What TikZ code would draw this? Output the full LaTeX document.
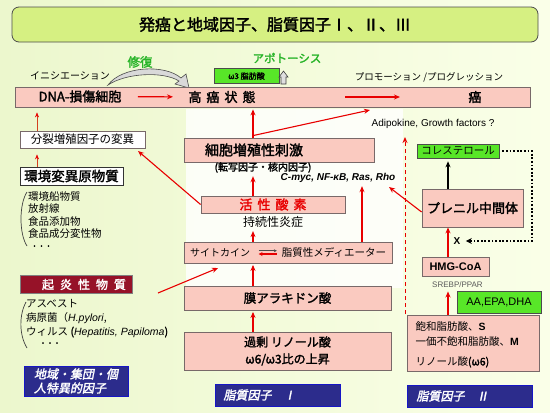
\documentclass[tikz,border=0pt]{standalone}
\usepackage{fontspec}
\setmainfont{Noto Sans CJK JP}[AutoFakeBold=2,AutoFakeSlant=0.2]
\newfontfamily\lat{Liberation Sans}
\usetikzlibrary{arrows.meta, calc}
\definecolor{bgleft}{RGB}{236,247,205}
\definecolor{bgright}{RGB}{250,255,232}
\definecolor{titlegreen}{RGB}{214,240,130}
\definecolor{boxpink}{RGB}{250,202,192}
\definecolor{boxedge}{RGB}{120,105,105}
\definecolor{arrred}{RGB}{232,0,0}
\definecolor{kienred}{RGB}{150,18,40}
\definecolor{navy}{RGB}{44,44,140}
\definecolor{limegreen}{RGB}{88,230,40}
\definecolor{repgreen}{RGB}{40,180,40}
\newcommand{\fsz}[2]{\fontsize{#1}{#2}\selectfont}
\tikzset{
    pinkbox/.style={draw=boxedge, fill=boxpink, inner sep=0pt, line width=0.8pt},
    whitebox/.style={draw=boxedge, fill=white, inner sep=0pt, line width=0.8pt},
    limebox/.style={draw=gray!60!black, fill=limegreen, inner sep=0pt, line width=0.6pt},
    navybox/.style={draw=blue!50!navy, fill=navy, inner sep=0pt, line width=1pt},
    navytext/.style={text=white, font=\fsz{12}{14}\bfseries\itshape},
    redarr/.style={draw=arrred, line width=1.1pt, -{Stealth[length=6pt,width=5pt]}},
    thinarr/.style={draw=arrred!50!brown, line width=0.6pt, -{Stealth[length=5pt,width=4pt,color=arrred]}},
    dotline/.style={line width=1.8pt, dash pattern=on 1.8pt off 1.8pt, -{Stealth[length=6pt,width=6pt]}}
}
\begin{document}
\begin{tikzpicture}[x=1pt, y=-1pt]
    % background
    \shade[left color=bgleft, right color=bgright] (0,0) rectangle (550,413);
    \useasboundingbox (0,0) rectangle (550,413);
    \fill[white, opacity=.8] (186,109) rectangle (403,288);

    % title
    \node[draw=gray!60!black, fill=titlegreen, rounded corners=7pt, line width=0.8pt,
          minimum width=526pt, minimum height=35pt, font=\fsz{16}{19}\bfseries] (title) at (275,24.5) {発癌と地域因子、脂質因子Ⅰ、Ⅱ、Ⅲ};

    % top row
    \node[font=\fsz{10}{12}] (init) at (70,76) {イニシエーション};
    \node[font=\fsz{12.5}{14}\bfseries, text=repgreen] (repair) at (140,62) {修復};
    \node[font=\fsz{11.5}{14}\bfseries, text=repgreen] (apop) at (287,58) {アポトーシス};
    \node[limebox, minimum width=65pt, minimum height=15pt, font=\fsz{8}{9}\bfseries] (omega) at (246.5,76) {ω3 脂肪酸};
    \node[font=\fsz{9.5}{11}] (promo) at (429,77) {プロモーション /プログレッション};
    \draw[draw=gray!60!black, fill=gray!30, line width=.6pt]
        (108,85) .. controls (122,66) and (165,64) .. (181,78) -- (186,74) -- (189,88) -- (175,84) -- (179,81)
        .. controls (163,71) and (126,73) .. (108,85) -- cycle;
    \draw[draw=gray!50!black, fill=gray!25, line width=.6pt]
        (281,84) -- (281,77) -- (279,77) -- (283.5,71) -- (288,77) -- (286,77) -- (286,84) -- cycle;

    % main band
    \node[pinkbox, minimum width=515pt, minimum height=20pt] (main) at (272.5,97) {};
    \node[font=\fsz{13}{15}\bfseries] (dna) at (80,96.5) {DNA-損傷細胞};
    \node[font=\fsz{13}{15}\bfseries] (kogan) at (222,97) {高\hspace{5pt}癌\hspace{5pt}状\hspace{5pt}態};
    \node[font=\fsz{13}{15}\bfseries] (gan) at (475,97) {癌};
    \draw[redarr, shorten <=13pt, shorten >=12pt] (dna) -- (kogan);
    \draw[redarr, shorten <=86pt, shorten >=65pt] (kogan) -- (gan);
    \node[font=\lat\fsz{10}{12}] (adipo) at (433,124) {Adipokine, Growth factors ?};

    % left column
    \node[whitebox, minimum width=125pt, minimum height=17pt, font=\fsz{11.5}{13}] (bunretsu) at (82.5,139.5) {分裂増殖因子の変異};
    \node[whitebox, draw=black!80, minimum width=103pt, minimum height=18pt, font=\fsz{13.5}{15}\bfseries] (kankyo) at (71.5,176) {環境変異原物質};
    \coordinate (leftx) at (37,0);
    \draw[thinarr, shorten >=5pt] (bunretsu.north -| leftx) -- (main.south -| leftx);
    \draw[thinarr, shorten >=6pt] (kankyo.north -| leftx) -- (bunretsu.south -| leftx);
    \node[anchor=north west, align=left, inner sep=0pt, font=\fsz{10.5}{12.5}] (src) at (28,191) {環境船物質\\放射線\\食品添加物\\食品成分変性物};
    \node[font=\fsz{7}{8}\bfseries] (srcdots) at (41.5,247) {・・・};
    \draw[gray!50!black, line width=.7pt] (27,192) .. controls (19,204) and (19,234) .. (27,246);

    \node[draw=gray, fill=kienred, minimum width=112pt, minimum height=17pt, text=white,
          font=\fsz{12}{14}\bfseries] (kien) at (76,284.5) {\hspace*{16pt}起\hspace{6pt}炎\hspace{6pt}性\hspace{6pt}物\hspace{6pt}質};
    \node[anchor=north west, align=left, inner sep=0pt, font=\fsz{10.5}{14}] (inflam) at (26,299)
        {アスベスト\\病原菌（{\lat\itshape H.pylori},\\ウィルス {\bfseries(}{\lat\itshape Hepatitis, Papiloma}{\bfseries)}};
    \node[font=\fsz{7}{8}\bfseries] (inflamdots) at (50,344) {・・・};
    \draw[gray!50!black, line width=.7pt] (26,302) .. controls (19,315) and (19,335) .. (27,348);

    \node[navybox, minimum width=104pt, minimum height=30pt, align=left, navytext] (chiiki) at (76,381) {地域・集団・個\\人特異的因子};

    % middle column
    \node[pinkbox, minimum width=190pt, minimum height=24pt] (saibo) at (279,150) {};
    \node[font=\fsz{14}{16}\bfseries] (saibotxt) at (254,150) {細胞増殖性刺激};
    \node[font=\fsz{10}{11}\bfseries] (tensha) at (263,167.5) {(転写因子・核内因子)};
    \node[font=\lat\fsz{10}{12}\bfseries\itshape] (myc) at (338,178) {C-myc, NF-κB, Ras, Rho};
    \node[pinkbox, minimum width=144pt, minimum height=17pt, text=arrred, font=\fsz{13}{15}\bfseries] (kasei) at (273,204.5)
        {活\hspace{5pt}性\hspace{5pt}酸\hspace{5pt}素};
    \node[font=\fsz{12}{14}] (jizoku) at (273,222) {持続性炎症};
    \node[pinkbox, minimum width=208pt, minimum height=21pt] (saito) at (288,252.5) {};
    \node[font=\fsz{10}{12}] (cyto) at (220,252.5) {サイトカイン};
    \node[font=\fsz{10.5}{12}] (lipmed) at (334,252.5) {脂質性メディエーター};
    \draw[gray!60!black, line width=1pt, -{Stealth[length=3pt,width=3pt]}, shorten <=5pt, shorten >=1.5pt]
        ([yshift=1.8pt]cyto.east) -- ([yshift=1.8pt]lipmed.west);
    \draw[arrred, line width=1.5pt, -{Stealth[length=4pt,width=4pt]}, shorten <=1.5pt, shorten >=5pt]
        ([yshift=-1.5pt]lipmed.west) -- ([yshift=-1.5pt]cyto.east);
    \node[pinkbox, minimum width=207pt, minimum height=24pt, font=\fsz{12.5}{14}\bfseries] (maku) at (287.5,298) {膜アラキドン酸};
    \node[pinkbox, minimum width=207pt, minimum height=38pt, align=center, font=\fsz{12}{17}\bfseries] (kajo) at (287.5,351)
        {過剰 リノール酸\\ω6/ω3比の上昇};
    \node[navybox, minimum width=125pt, minimum height=22pt] (lip1) at (277.5,395) {};
    \node[navytext, anchor=west] (lip1txt) at (220,395) {脂質因子\quad Ⅰ};

    % middle arrows
    \coordinate (midx) at (253,0);
    \coordinate (mycx) at (362,0);
    \coordinate (gantip) at (370,110);
    \coordinate (muttip) at (138,151);
    \coordinate (kienout) at (158,293);
    \coordinate (cytotip) at (218,268);
    \draw[redarr, shorten >=2pt] (saibo.north -| midx) -- (main.south -| midx);
    \draw[redarr] ([yshift=2pt]saibo.north -| midx) -- (gantip);
    \draw[redarr] (kasei.north -| midx) -- (tensha.south -| midx);
    \draw[redarr] (saito.north -| midx) -- (jizoku.south -| midx);
    \draw[redarr] (saito.north -| mycx) -- (myc.south -| mycx);
    \draw[redarr, shorten >=1.5pt] (maku.north -| midx) -- (saito.south -| midx);
    \draw[redarr, shorten >=1.5pt] (kajo.north -| midx) -- (maku.south -| midx);
    \draw[redarr] (kasei.west) -- (muttip);
    \draw[redarr] (kienout) -- (cytotip);

    % right column
    \node[limebox, minimum width=82pt, minimum height=14pt, font=\fsz{10.5}{12}] (chol) at (458,151) {コレステロール};
    \node[pinkbox, minimum width=101pt, minimum height=38pt, font=\fsz{13}{15}\bfseries] (prenyl) at (472.5,208) {プレニル中間体};
    \node[font=\lat\fsz{10}{12}\bfseries] (xmark) at (457,241) {X};
    \node[pinkbox, minimum width=67pt, minimum height=19pt, font=\lat\fsz{11}{13}\bfseries] (hmg) at (455.5,266.5) {HMG-CoA};
    \node[font=\lat\fsz{8}{9}, text=gray!70!black] (srebp) at (457.5,285) {SREBP/PPAR};
    \node[limebox, minimum width=84pt, minimum height=22pt, font=\lat\fsz{11}{13}] (aa) at (499,302) {AA,EPA,DHA};
    \node[pinkbox, minimum width=132pt, minimum height=56pt] (hoka) at (473,343) {};
    \node[anchor=west, font=\fsz{10.5}{12}] (sat) at (412,327) {飽和脂肪酸、{\lat\bfseries S}};
    \node[anchor=west, font=\fsz{10.5}{12}] (mono) at (412,342) {一価不飽和脂肪酸、{\lat\bfseries M}};
    \node[anchor=west, font=\fsz{10.5}{12}] (lino) at (412,362) {リノール酸{\bfseries(ω6)}};
    \node[navybox, minimum width=125pt, minimum height=22pt] (lip2) at (469.5,396) {};
    \node[navytext, anchor=west] (lip2txt) at (413,396) {脂質因子\quad Ⅱ};

    % right arrows
    \coordinate (rightx) at (448,0);
    \coordinate (loopx) at (532,0);
    \coordinate (myctip) at (389,187);
    \coordinate (dashbot) at (405,314);
    \coordinate (dashtop) at (405,137);
    \draw[line width=1.1pt, -{Stealth[length=6pt,width=5pt]}, shorten >=3pt] (prenyl.north -| rightx) -- (chol.south -| rightx);
    \draw[redarr] (hmg.north -| rightx) -- (prenyl.south -| rightx);
    \draw[redarr] (hoka.north -| rightx) -- (srebp.south -| rightx);
    \draw[dotline, shorten <=3pt, shorten >=2pt] (chol.east) -- (chol.east -| loopx) |- (xmark.east);
    \draw[redarr] ([yshift=-4pt]prenyl.west) -- (myctip);
    \draw[redarr, dash pattern=on 4pt off 3pt, line width=1pt] (dashbot) -- (dashtop);
\end{tikzpicture}
\end{document}
